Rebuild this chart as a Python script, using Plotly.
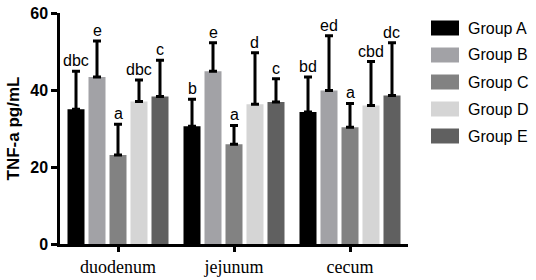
import plotly.graph_objects as go

categories = ["duodenum", "jejunum", "cecum"]
groups = ["Group A", "Group B", "Group C", "Group D", "Group E"]
colors = ["#000000", "#a2a2a6", "#828282", "#d5d5d5", "#606060"]

means = {
    "Group A": [35.0, 30.6, 34.3],
    "Group B": [43.4, 44.9, 39.9],
    "Group C": [23.1, 25.9, 30.3],
    "Group D": [37.0, 36.3, 36.0],
    "Group E": [38.3, 36.9, 38.6],
}
err_top = {
    "Group A": [44.9, 37.6, 43.4],
    "Group B": [52.7, 52.3, 54.1],
    "Group C": [31.1, 30.8, 36.5],
    "Group D": [42.6, 49.7, 47.4],
    "Group E": [47.7, 42.9, 52.3],
}
letters = {
    "Group A": ["dbc", "b", "bd"],
    "Group B": ["e", "e", "ed"],
    "Group C": ["a", "a", "a"],
    "Group D": ["dbc", "d", "cbd"],
    "Group E": ["c", "c", "dc"],
}
y_ticks = [0, 20, 40, 60]

W, H = 536, 280
ML, MR, MT, MB = 60, 128, 13, 36
PW, PH = W - ML - MR, H - MT - MB

fig = go.Figure()
for g, c in zip(groups, colors):
    sd = [t - m for t, m in zip(err_top[g], means[g])]
    fig.add_trace(go.Bar(
        name=g, x=categories, y=means[g], marker=dict(color=c, line=dict(width=0)),
        error_y=dict(type="data", array=sd, arrayminus=[0] * len(sd), symmetric=False,
                     thickness=3, width=4, color="black"),
        showlegend=False,
    ))

slot = PW / len(categories) * (1 - 0.095) / len(groups)
ann = []
for i, g in enumerate(groups):
    for j, cat in enumerate(categories):
        ann.append(dict(x=cat, y=err_top[g][j], xref="x", yref="y", text=letters[g][j],
                        showarrow=False, yanchor="bottom", xanchor="center",
                        xshift=(i - 2) * slot, yshift=0,
                        font=dict(family="Arial, Liberation Sans", size=16, color="black")))

shapes = []
def px2x(px):
    return (px - ML) / PW
def py2y(py):
    return (H - MB - py) / PH
for i, (g, c) in enumerate(zip(groups, colors)):
    cy = 28 + 27 * i
    shapes.append(dict(type="rect", xref="paper", yref="paper",
                       x0=px2x(431), x1=px2x(459), y0=py2y(cy + 7.5), y1=py2y(cy - 7.5),
                       fillcolor=c, line=dict(width=0)))
    ann.append(dict(x=px2x(466), y=py2y(cy), xref="paper", yref="paper", text=g,
                    showarrow=False, xanchor="left", yanchor="middle",
                    font=dict(family="Arial, Liberation Sans", size=16, color="black")))

fig.update_layout(
    width=W, height=H, margin=dict(l=ML, r=MR, t=MT, b=MB, autoexpand=False),
    paper_bgcolor="white", plot_bgcolor="white",
    barmode="group", bargap=0.095, bargroupgap=0.19,
    annotations=ann, shapes=shapes,
    xaxis=dict(showline=True, linecolor="black", linewidth=2.5, ticks="outside",
               ticklen=5, tickwidth=2.5, tickcolor="black", showgrid=False, automargin=False,
               tickfont=dict(family="Times New Roman, Liberation Serif", size=18, color="black"),
               range=[-0.5, 2.5]),
    yaxis=dict(range=[0, 60], tickvals=y_ticks, showline=True, linecolor="black",
               linewidth=2.5, ticks="outside", ticklen=6, tickwidth=2.5, tickcolor="black",
               showgrid=False, zeroline=False, automargin=False,
               tickfont=dict(family="Arial, Liberation Sans", size=16, color="black", weight="bold"),
               title=dict(text="TNF-a pg/mL", standoff=7,
                          font=dict(family="Arial, Liberation Sans", size=17, color="black", weight="bold"))),
)
fig.write_html("out.html", config={"displayModeBar": False},
               post_script="document.body.style.margin='0';document.body.style.overflow='hidden';")
